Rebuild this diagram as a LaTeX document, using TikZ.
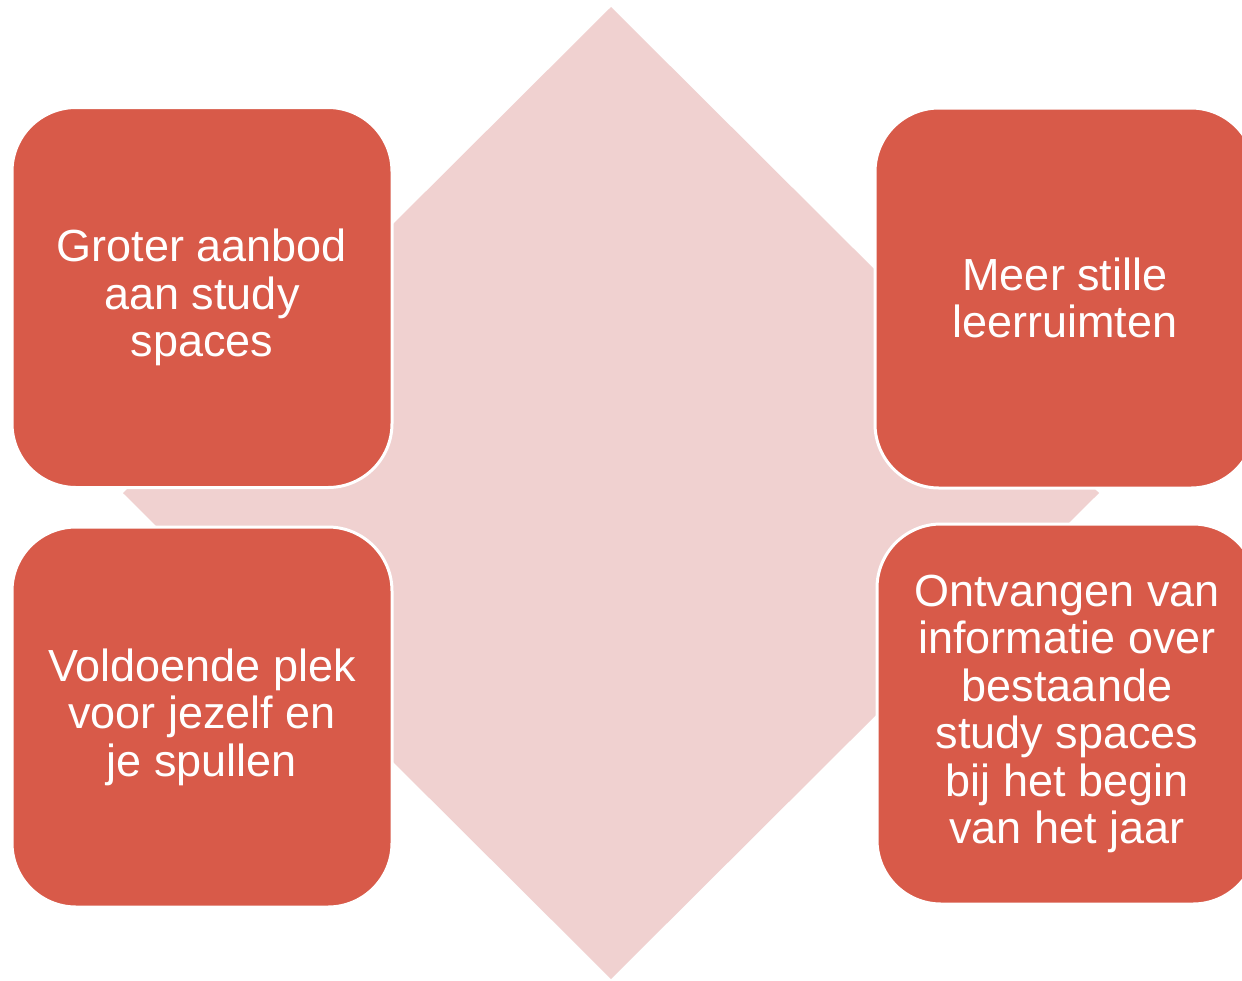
\documentclass[tikz,border=0pt]{standalone}
\usepackage{fontspec}
\setmainfont{Liberation Sans}
\definecolor{boxred}{HTML}{D85A49}
\definecolor{diapink}{HTML}{F0D1D0}
\definecolor{edgegray}{HTML}{ECECEC}
\begin{document}
\begin{tikzpicture}[x=1pt,y=-1pt,
  card/.style={fill=boxred, draw=white, line width=3pt, rounded corners=64pt,
    minimum width=380pt, minimum height=380pt, inner sep=0pt, align=center,
    text=white, font=\fontsize{45}{47.5}\selectfont}]
\useasboundingbox (0,0) rectangle (1242,980);
\fill[white] (0,0) rectangle (1242,980);
\clip (0,0) rectangle (1242,980);
% background diamond
\coordinate (dt) at (611,7);
\coordinate (dr) at (1099,493);
\coordinate (db) at (611,979);
\coordinate (dl) at (123,493);
\fill[diapink] (dt) -- (dr) -- (db) -- (dl) -- cycle;
% cards
\node[card] (tl) at (202,297.5) {Groter aanbod\\aan study\\spaces};
\node[card] (tr) at (1065,298) {Meer stille\\leerruimten};
\node[card] (bl) at (202,717) {Voldoende plek\\voor jezelf en\\je spullen};
\node[card] (br) at (1067,714) {Ontvangen van\\informatie over\\bestaande\\study spaces\\bij het begin\\van het jaar};
\end{tikzpicture}
\end{document}
